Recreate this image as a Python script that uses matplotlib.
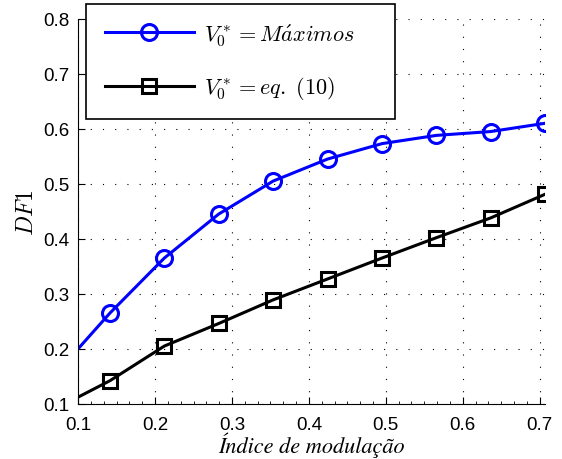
import matplotlib
matplotlib.use("Agg")
import matplotlib.pyplot as plt
from matplotlib.patches import Rectangle
from matplotlib.ticker import MultipleLocator, AutoMinorLocator

# indices de modulacao (o primeiro ponto fica fora do eixo)
indice = [0.0707, 0.1414, 0.2121, 0.2828, 0.3536, 0.4243, 0.4950, 0.5657, 0.6364, 0.7071]
df1_maximos = [0.154, 0.265, 0.365, 0.445, 0.505, 0.545, 0.573, 0.588, 0.595, 0.610]
df1_eq10 = [0.091, 0.142, 0.205, 0.246, 0.289, 0.327, 0.365, 0.402, 0.438, 0.481]

plt.rcParams['mathtext.fontset'] = 'cm'
plt.rcParams['font.family'] = ['Liberation Sans', 'DejaVu Sans']

W, H = 562, 460
fig = plt.figure(figsize=(W / 100, H / 100), dpi=100)
ax = fig.add_axes([0.139, 0.12, 0.831, 0.837])

ax.plot(indice, df1_maximos, color='#0000ff', lw=2.2, marker='o', ms=11.5,
        mfc='none', mew=2.2, label=r'$V_0^* = M\acute{a}ximos$')
ax.plot(indice, df1_eq10, color='black', lw=2.2, marker='s', ms=10,
        mfc='none', mew=2.2, label=r'$V_0^* = eq.\ (10)$')

ax.set_xlim(0.1, 0.7071)
ax.set_ylim(0.1, 0.8)
ax.xaxis.set_major_locator(MultipleLocator(0.1))
ax.yaxis.set_major_locator(MultipleLocator(0.1))
ax.xaxis.set_minor_locator(AutoMinorLocator(6))
ax.tick_params(which='both', direction='in', labelsize=13.5)
ax.tick_params(which='major', length=5)
ax.tick_params(which='minor', length=2.5)
ax.tick_params(axis='x', pad=9)
ax.tick_params(axis='y', pad=6)
ax.spines['top'].set_visible(False)
ax.spines['right'].set_visible(False)
ax.grid(True, linestyle=(0, (1, 10)), color='black', lw=0.8)

ax.set_xlabel('Índice de modulação', family='STIXGeneral', style='italic',
              fontsize=16, labelpad=-1)
ax.set_ylabel(r'$DF1$', fontsize=17, labelpad=4)

# caixa da legenda (estilo MATLAB, mais larga que o texto)
caixa = Rectangle((86 / W, 1 - 120 / H), 309 / W, 115 / H,
                  transform=fig.transFigure, facecolor='white',
                  edgecolor='black', lw=1.2, zorder=5, clip_on=False)
ax.add_patch(caixa)
leg = ax.legend(loc='upper left', bbox_to_anchor=(105 / W, 1 - 22 / H),
                bbox_transform=fig.transFigure, fontsize=16, frameon=False,
                handlelength=4.0, borderpad=0, labelspacing=1.2,
                handletextpad=0.45, borderaxespad=0)
leg.set_zorder(6)

plt.savefig('out.png')
